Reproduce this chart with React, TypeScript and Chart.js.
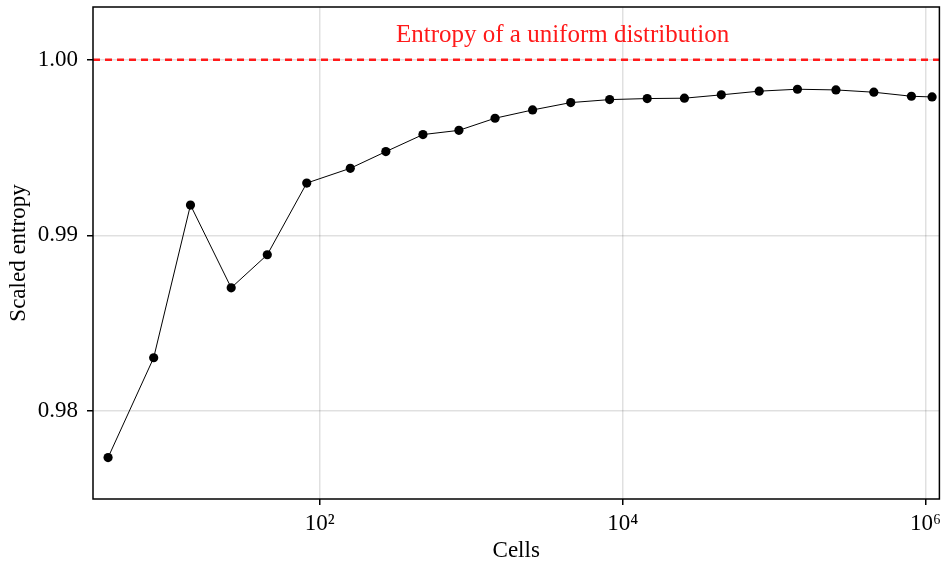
import React, { useEffect, useRef } from 'react';
import { Chart, registerables } from 'chart.js';

Chart.register(...registerables);

const cells = [4, 8, 14, 26, 45, 82, 159, 273, 480, 829, 1436, 2541, 4540, 8202, 14521, 25560, 44780, 79670, 142560, 256000, 455300, 806300, 1104000];
const scaledEntropy = [0.97736, 0.98304, 0.99173, 0.98702, 0.9889, 0.99298, 0.99382, 0.99477, 0.99574, 0.99598, 0.99667, 0.99714, 0.99756, 0.99773, 0.99779, 0.99781, 0.998, 0.99821, 0.99832, 0.99828, 0.99815, 0.99792, 0.99788];
const xTickValues = [100, 10000, 1000000];
const xTickLabels = ['10²', '10⁴', '10⁶'];
const yTickValues = [0.98, 0.99, 1.0];
const xRange = [3.18, 1234000];
const yRange = [0.975, 1.003];
const uniformEntropy = 1.0;
const referenceLabel = 'Entropy of a uniform distribution';
const referenceLabelPos = { x: 4009, y: 1.0014 };
const xTitle = 'Cells';
const yTitle = 'Scaled entropy';

const FONT = '"Liberation Serif", "Times New Roman", serif';
const FS = 23;

export default function App() {
  const ref = useRef<HTMLCanvasElement | null>(null);

  useEffect(() => {
    document.body.style.margin = '0';
    const canvas = ref.current;
    if (!canvas) return;

    const framePlugin = {
      id: 'frameAndLabel',
      afterDatasetsDraw(chart: any) {
        const { ctx, chartArea, scales } = chart;
        ctx.save();
        ctx.strokeStyle = '#000';
        ctx.lineWidth = 1.5;
        ctx.strokeRect(chartArea.left, chartArea.top, chartArea.right - chartArea.left, chartArea.bottom - chartArea.top);
        ctx.fillStyle = '#ff1a1a';
        ctx.font = `25px ${FONT}`;
        ctx.textAlign = 'center';
        ctx.textBaseline = 'middle';
        ctx.fillText(referenceLabel, scales.x.getPixelForValue(referenceLabelPos.x), scales.y.getPixelForValue(referenceLabelPos.y));
        ctx.restore();
      },
    };

    const chart = new Chart(canvas, {
      type: 'line',
      data: {
        datasets: [
          {
            data: cells.map((c, i) => ({ x: c, y: scaledEntropy[i] })),
            borderColor: '#000',
            backgroundColor: '#000',
            borderWidth: 1,
            pointRadius: 4.6,
            pointBorderWidth: 0,
            pointBackgroundColor: '#000',
            tension: 0,
          },
          {
            data: [
              { x: xRange[0], y: uniformEntropy },
              { x: xRange[1], y: uniformEntropy },
            ],
            borderColor: '#ff1a1a',
            borderWidth: 2.5,
            borderDash: [7, 5],
            pointRadius: 0,
          },
        ],
      },
      options: {
        animation: false,
        responsive: false,
        maintainAspectRatio: false,
        layout: { padding: { top: 7, right: 2, left: 0, bottom: 0 } },
        plugins: { legend: { display: false }, tooltip: { enabled: false } },
        scales: {
          x: {
            type: 'logarithmic',
            min: xRange[0],
            max: xRange[1],
            afterBuildTicks: (scale: any) => {
              scale.ticks = xTickValues.map((v) => ({ value: v }));
            },
            afterFit: (scale: any) => {
              scale.height = 63;
              scale.paddingLeft = 0;
              scale.paddingRight = 0;
            },
            grid: { color: 'rgba(0,0,0,0.12)', lineWidth: 1.5, tickColor: '#000', tickLength: 6, drawTicks: true },
            border: { display: false },
            ticks: {
              autoSkip: false,
              maxRotation: 0,
              padding: 5,
              color: '#000',
              font: { family: FONT, size: FS },
              callback: (v: any) => {
                const idx = xTickValues.indexOf(Number(v));
                return idx >= 0 ? xTickLabels[idx] : '';
              },
            },
            title: { display: true, text: xTitle, color: '#000', font: { family: FONT, size: FS, lineHeight: 1 }, padding: { top: 0, bottom: 0 } },
          },
          y: {
            type: 'linear',
            min: yRange[0],
            max: yRange[1],
            afterBuildTicks: (scale: any) => {
              scale.ticks = yTickValues.map((v) => ({ value: v }));
            },
            afterFit: (scale: any) => {
              scale.width = 93;
              scale.paddingTop = 0;
              scale.paddingBottom = 0;
            },
            grid: { color: 'rgba(0,0,0,0.12)', lineWidth: 1.5, tickColor: '#000', tickLength: 6 },
            border: { display: false },
            ticks: {
              padding: 9,
              color: '#000',
              font: { family: FONT, size: FS },
              callback: (v: any) => Number(v).toFixed(2),
            },
            title: { display: true, text: yTitle, color: '#000', font: { family: FONT, size: FS, lineHeight: 1 }, padding: { top: 7, bottom: 0 } },
          },
        },
      },
      plugins: [framePlugin],
    });

    return () => chart.destroy();
  }, []);

  return (
    <div style={{ position: 'fixed', left: 0, top: 0, width: 944, height: 562, background: '#fff' }}>
      <canvas ref={ref} width={944} height={562} style={{ width: 944, height: 562, display: 'block' }} />
    </div>
  );
}
